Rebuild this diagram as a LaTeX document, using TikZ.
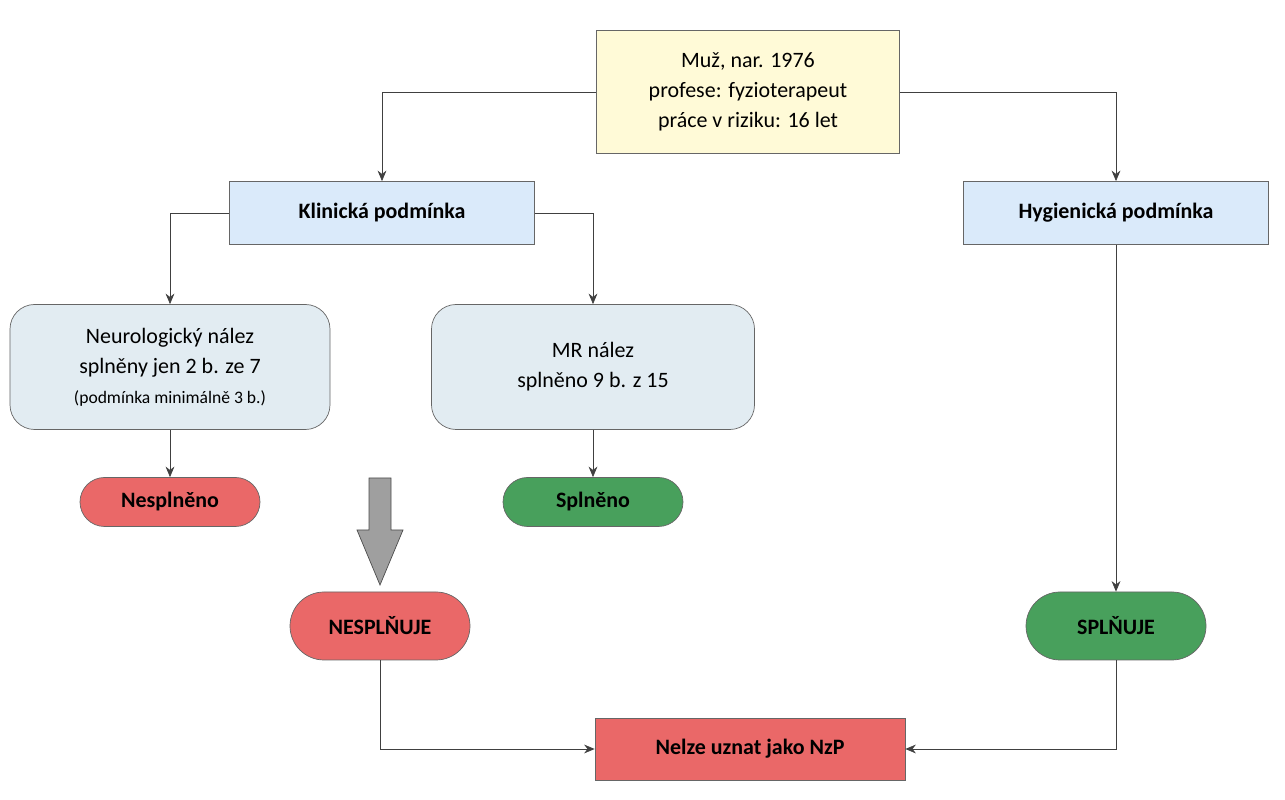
\documentclass[tikz,border=0pt]{standalone}
\usepackage{fontspec}
\setmainfont{Carlito}
\usetikzlibrary{arrows.meta}
\definecolor{infoyellow}{RGB}{255,250,215}
\definecolor{condblue}{RGB}{218,234,250}
\definecolor{findgray}{RGB}{226,236,242}
\definecolor{failred}{RGB}{234,104,104}
\definecolor{passgreen}{RGB}{72,160,92}
\tikzset{
    box/.style={draw=black!60,minimum width=6.1cm,minimum height=1.26cm,align=center,font=\fontsize{12.5}{17}\selectfont},
    condbox/.style={box,fill=condblue,font=\fontsize{12.5}{17}\selectfont\bfseries},
    findbox/.style={box,fill=findgray,rounded corners=14pt,minimum width=6.4cm,minimum height=2.5cm},
    pill/.style={draw=black!60,rounded corners=0.49cm,minimum width=3.6cm,minimum height=0.98cm,font=\fontsize{12.5}{15}\selectfont\bfseries},
    bigpill/.style={pill,rounded corners=0.68cm,minimum height=1.36cm},
    link/.style={draw=black!75,-{Stealth[length=6pt,width=5pt]}}
}
\begin{document}
\begin{tikzpicture}
    \useasboundingbox (0,0) rectangle (25.7,16);

    % Patient and the two conditions
    \node[box,fill=infoyellow,minimum width=6.06cm,minimum height=2.46cm] (patient) at (14.96,14.16)
        {Muž, nar. 1976\\profese: fyzioterapeut\\práce v riziku: 16 let};
    \node[condbox] (clinical) at (7.64,11.74) {Klinická podmínka};
    \node[condbox] (hygiene) at (22.32,11.74) {Hygienická podmínka};

    % Findings
    \node[findbox] (neuro) at (3.4,8.66)
        {Neurologický nález\\splněny jen 2 b. ze 7\\{\fontsize{10}{13}\selectfont(podmínka minimálně 3 b.)}};
    \node[findbox,minimum width=6.46cm] (mr) at (11.86,8.66) {MR nález\\splněno 9 b. z 15};

    % Results
    \node[pill,fill=failred] (neuroRes) at (3.4,5.96) {Nesplněno};
    \node[pill,fill=passgreen] (mrRes) at (11.86,5.96) {Splněno};
    \node[bigpill,fill=failred] (clinicalRes) at (7.6,3.48) {NESPLŇUJE};
    \node[bigpill,fill=passgreen] (hygieneRes) at (22.32,3.48) {SPLŇUJE};
    \node[box,fill=failred,minimum width=6.2cm,minimum height=1.24cm,font=\fontsize{12.5}{15}\selectfont\bfseries] (verdict) at (15,1.02) {Nelze uznat jako NzP};

    % Big arrow
    \draw[black!70,fill=gray!75] (7.38,6.44) -- (7.82,6.44) -- (7.82,5.4) -- (8.06,5.4)
        -- (7.6,4.3) -- (7.14,5.4) -- (7.38,5.4) -- cycle;

    % Connectors
    \draw[link] (patient.west) -| (clinical.north);
    \draw[link] (patient.east) -| (hygiene.north);
    \draw[link] (clinical.west) -| (neuro.north);
    \draw[link] (clinical.east) -| (mr.north);
    \draw[link] (neuro.south) -- (neuroRes.north);
    \draw[link] (mr.south) -- (mrRes.north);
    \draw[link] (hygiene.south) -- (hygieneRes.north);
    \draw[link] (clinicalRes.south) |- (verdict.west);
    \draw[link] (hygieneRes.south) |- (verdict.east);
\end{tikzpicture}
\end{document}
